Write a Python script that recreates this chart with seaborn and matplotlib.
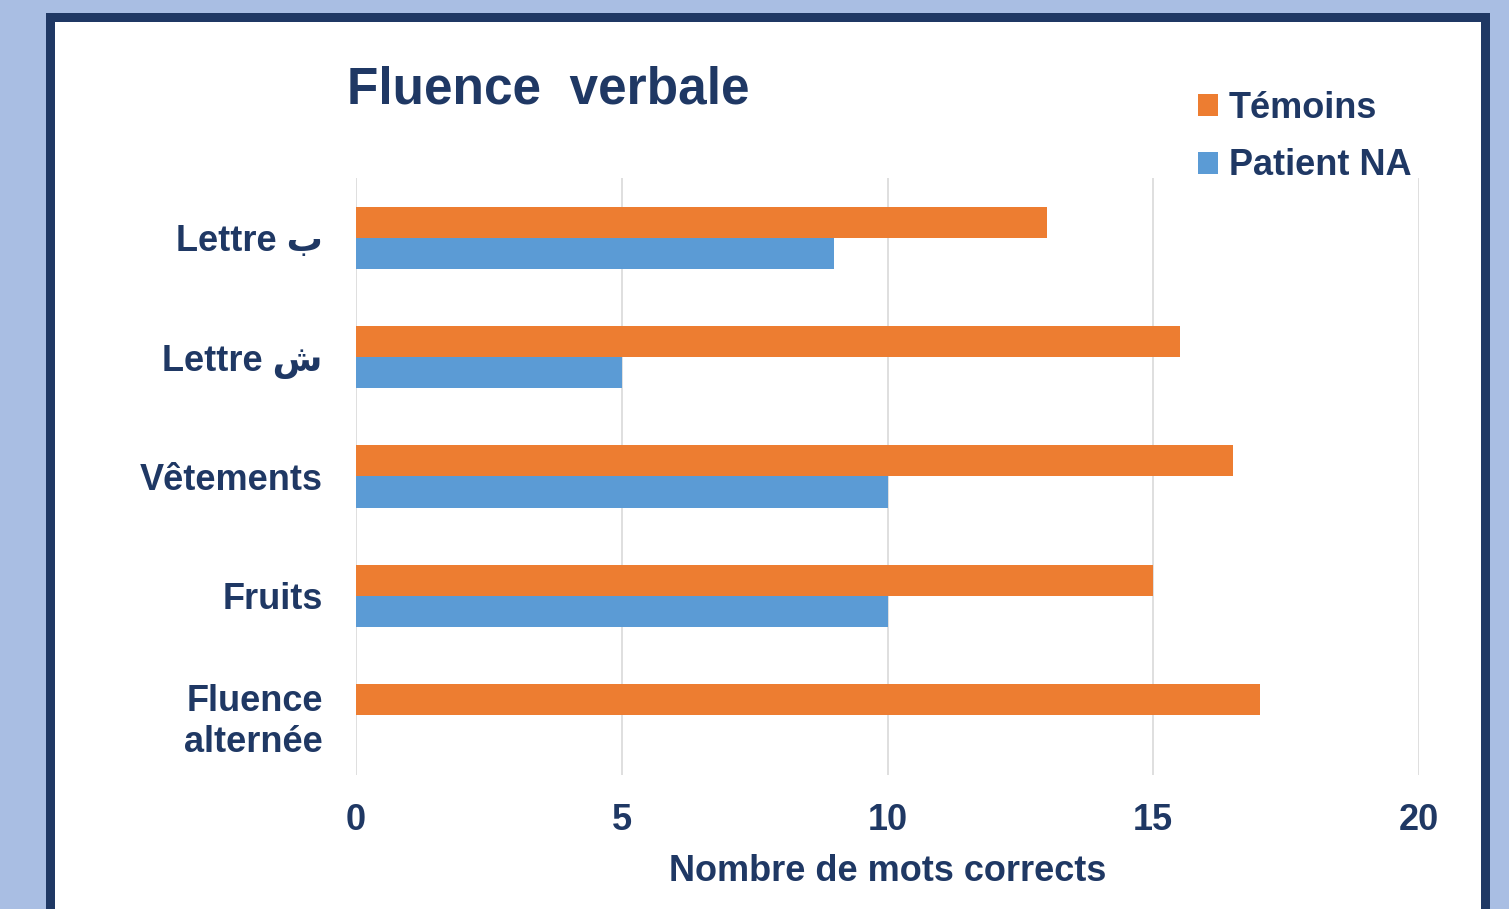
import pandas as pd
import seaborn as sns
import matplotlib.pyplot as plt
from matplotlib.patches import Rectangle, Patch

categories = ["Lettre ب", "Lettre ش", "Vêtements", "Fruits", "Fluence\nalternée"]
temoins = [13, 15.5, 16.5, 15, 17]
patient_na = [9, 5, 10, 10, 0]
groups = ["Témoins", "Patient NA"]
colors = ["#ED7D31", "#5B9BD5"]
xticks = [0, 5, 10, 15, 20]

navy = "#1F3864"

df = pd.DataFrame({
    "cat": categories * 2,
    "val": temoins + patient_na,
    "group": [groups[0]] * len(categories) + [groups[1]] * len(categories),
})

sns.set_theme(style="white")
plt.rcParams["font.family"] = ["Liberation Sans", "DejaVu Sans"]
plt.rcParams["font.weight"] = "bold"

fig = plt.figure(figsize=(15.09, 9.09), dpi=100)
fig.patch.set_facecolor("#A9BEE3")

W, H = 1509, 909
# navy frame + white panel
fig.add_artist(Rectangle((46 / W, 0), (1490 - 46) / W, (H - 13) / H,
                         transform=fig.transFigure, facecolor=navy,
                         edgecolor="none", zorder=0))
fig.add_artist(Rectangle((55 / W, 0), (1481 - 55) / W, (H - 22) / H,
                         transform=fig.transFigure, facecolor="white",
                         edgecolor="none", zorder=0))

ax = fig.add_axes([356 / W, 134 / H, (1419 - 356) / W, (775 - 178) / H])
ax.set_facecolor("none")

sns.barplot(data=df, y="cat", x="val", hue="group", hue_order=groups,
            order=categories, palette=colors, saturation=1, orient="h",
            width=0.52, linewidth=0, ax=ax, legend=False)

ax.set_xlim(0, 20)
ax.set_ylim(4.5, -0.5)
ax.set_xticks(xticks)
ax.grid(axis="x", color="#D9D9D9", linewidth=1.2)
ax.grid(axis="y", visible=False)
ax.set_axisbelow(True)
for s in ax.spines.values():
    s.set_visible(False)

ax.tick_params(axis="both", length=0, labelsize=26, colors=navy)
ax.tick_params(axis="y", pad=24)
ax.tick_params(axis="x", pad=20)
for lab in ax.get_xticklabels() + ax.get_yticklabels():
    lab.set_fontweight("bold")

ax.set_ylabel("")
ax.set_xlabel("Nombre de mots corrects", fontsize=26, fontweight="bold",
              color=navy, labelpad=12)

fig.text(347 / W, 1 - 90 / H, "Fluence  verbale", fontsize=37,
         fontweight="bold", color=navy, ha="left", va="center")

handles = [Patch(facecolor=c, edgecolor="none") for c in colors]
leg = fig.legend(handles, groups, loc="upper left",
                 bbox_to_anchor=(1180 / W, 1 - 73 / H), frameon=False,
                 fontsize=26, handlelength=0.55, handleheight=0.55,
                 handletextpad=0.3, labelspacing=0.62, borderpad=0)
for t in leg.get_texts():
    t.set_color(navy)
    t.set_fontweight("bold")

fig.savefig("out.png", dpi=100, facecolor=fig.get_facecolor())
